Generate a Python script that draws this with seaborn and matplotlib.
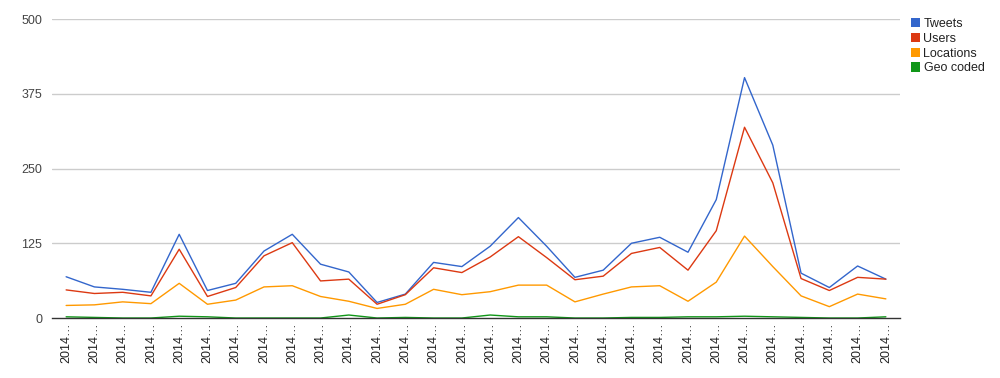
import matplotlib
matplotlib.use("Agg")
import matplotlib.pyplot as plt
from matplotlib.patches import Patch
import seaborn as sns
import pandas as pd
import numpy as np

# ---- data ----
x_labels = ["2014…"] * 30
tweets = [69, 52, 48, 43, 140, 46, 58, 112, 140, 90, 77, 26, 40, 93, 86,
          120, 168, 120, 68, 80, 125, 135, 110, 198, 402, 289, 75, 51, 87, 65]
users = [47, 41, 43, 37, 115, 36, 51, 104, 126, 62, 65, 23, 39, 84, 76,
         102, 136, 101, 64, 70, 108, 118, 80, 146, 319, 226, 66, 46, 68, 65]
locations = [21, 22, 27, 24, 58, 23, 30, 52, 54, 36, 28, 16, 23, 48, 39,
             44, 55, 55, 27, 40, 52, 54, 28, 60, 137, 86, 37, 19, 40, 32]
geo_coded = [2, 1, 0, 0, 3, 2, 0, 0, 0, 0, 5, 0, 1, 0, 0,
             5, 2, 2, 0, 0, 1, 1, 2, 2, 3, 2, 1, 0, 0, 2]
series_names = ["Tweets", "Users", "Locations", "Geo coded"]
colors = ["#3366cc", "#dc3912", "#ff9900", "#109618"]
y_ticks = [0, 125, 250, 375, 500]

series_values = [tweets, users, locations, geo_coded]
rows = []
for name, vals in zip(series_names, series_values):
    for i, v in enumerate(vals):
        rows.append({"idx": i, "value": v, "series": name})
df = pd.DataFrame(rows)

sns.set_style("white")
plt.rcParams["font.family"] = ["Liberation Sans", "DejaVu Sans"]

fig = plt.figure(figsize=(10, 3.78), dpi=100)
ax = fig.add_axes([0.052, 0.1587, 0.848, 0.791])

sns.lineplot(data=df, x="idx", y="value", hue="series", hue_order=series_names,
             palette=colors, linewidth=1.0, ax=ax, legend=False, zorder=3)

ax.set_xlim(-0.5, len(x_labels) - 0.5)
ax.set_ylim(0, 500)
ax.set_yticks(y_ticks)
ax.set_yticklabels([str(t) for t in y_ticks], color="#444444", fontsize=9)
ax.set_xticks(range(len(x_labels)))
ax.set_xticklabels(x_labels, rotation=90, color="#222222", fontsize=9, va="top")
ax.tick_params(axis="both", length=0)
ax.tick_params(axis="y", pad=7)
ax.tick_params(axis="x", pad=3)
ax.set_xlabel("")
ax.set_ylabel("")

for t in y_ticks[1:]:
    ax.axhline(t, color="#cccccc", linewidth=1.0, zorder=1)

for s in ["top", "right", "left"]:
    ax.spines[s].set_visible(False)
ax.spines["bottom"].set_color("#333333")
ax.spines["bottom"].set_linewidth(1.0)
ax.spines["bottom"].set_zorder(4)

handles = [Patch(facecolor=c, edgecolor="none") for c in colors]
fig.legend(handles, series_names, loc="upper left", bbox_to_anchor=(0.911, 0.952),
           frameon=False, fontsize=9, handlelength=0.75, handleheight=0.75,
           handletextpad=0.25, labelspacing=0.22, borderaxespad=0, borderpad=0,
           labelcolor="#222222")

fig.savefig("out.png", dpi=100, facecolor="white")
